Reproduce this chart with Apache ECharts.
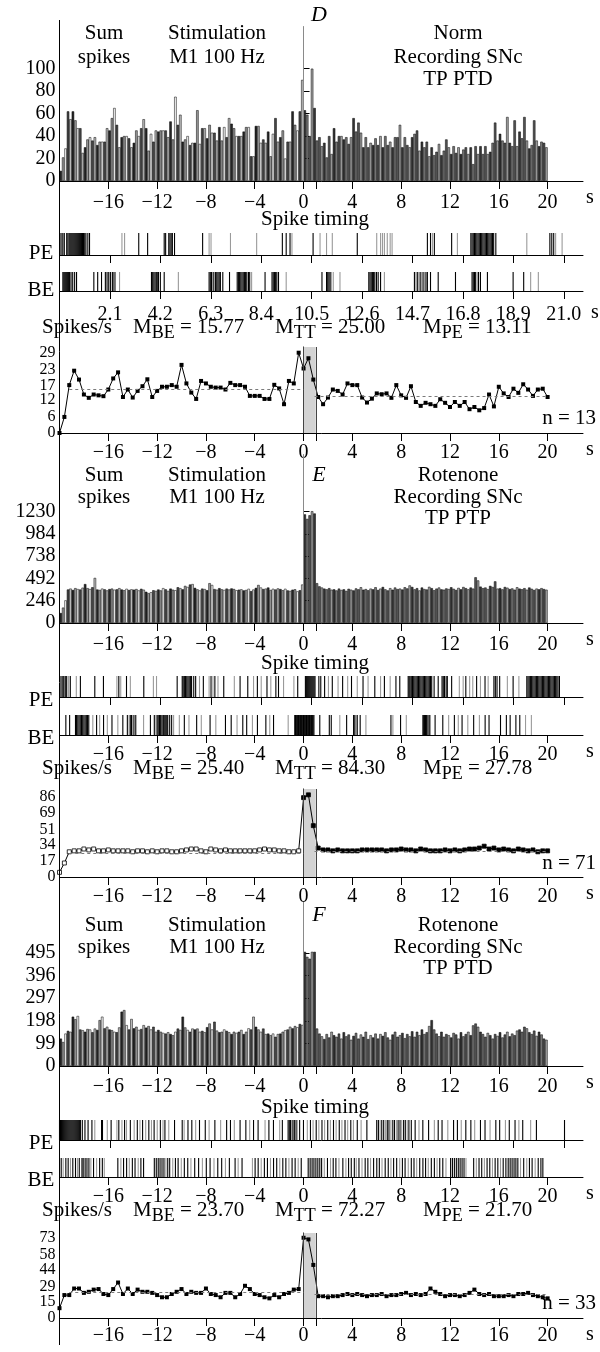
<!DOCTYPE html>
<html><head><meta charset="utf-8">
<script src="https://cdn.jsdelivr.net/npm/echarts@6/dist/echarts.min.js"></script>
<style>html,body{margin:0;padding:0;background:#fff}#c{width:600px;height:1352px}</style>
</head><body><div id="c"></div>
<script>
// ---------------- DATA ----------------
const secTicks = [-16,-12,-8,-4,0,4,8,12,16,20];
const secTicksWithStim = [-16,-12,-8,-4,0,1,4,8,12,16,20];
const rasterTicks = [2.1,4.2,6.3,8.4,10.5,12.6,14.7,16.8,18.9,21.0];
const histTicksD = [0,20,40,60,80,100];
const histTicksE = [0,246,492,738,984,1230];
const histTicksF = [0,99,198,297,396,495];
const lineTicksD = [0,6,12,17,23,29];
const lineTicksE = [0,17,34,51,69,86];
const lineTicksF = [0,15,29,44,58,73];
const panelLetters = ['D','E','F'];
const groupNames = ['Norm','Rotenone','Rotenone'];
const protocolNames = ['TP PTD','TP PTP','TP PTD'];
const meanBE = [15.77, 25.40, 23.70];
const meanTT = [25.00, 84.30, 72.27];
const meanPE = [13.11, 27.78, 21.70];
const nCells = [13, 71, 33];
const stimWindow = [0, 1];
const meanRangeBE = [-19.2, 0];
const meanRangePE = [0.9, 20];
const HIST_BIN_START = -20, HIST_BIN_WIDTH = 0.2;
const LINE_START = -20, LINE_STEP = 0.4;

const histD = [
9,21,29,62,55,62,54,47,47,25, 30,37,39,36,39,32,35,35,35,47,
45,56,65,50,30,39,40,40,38,30, 34,45,40,47,55,47,27,42,35,45,
44,45,45,45,39,53,37,75,50,59, 35,37,40,32,34,34,63,33,47,47,
38,50,43,43,36,48,36,48,39,56, 51,47,40,40,40,44,48,48,22,22,
49,49,34,37,
34,44,22,42,56,35,39,45,20,35, 35,62,50,45,62,90,63,59,40,100,
65,36,39,31,34,21,40,24,47,35, 40,40,37,39,33,39,56,44,52,43,
30,39,30,34,32,38,32,40,30,40, 32,35,30,39,39,50,30,39,32,30,
39,42,45,27,35,30,35,22,30,23, 26,33,23,27,37,30,24,31,25,30,
24,28,30,24,30,15,31,24,31,24, 31,24,
26,34,52,36,42,36,34,57,34,31,54,31,44,38,57,36,29,32,54,36,31,35,34,30];

const histE = [
110,170,250,370,380,365,385,375,370,390, 430,385,375,395,498,370,365,380,372,360,
375,380,368,372,385,370,362,378,365,372, 368,375,360,378,368,345,330,340,362,355,
370,360,385,372,355,380,368,362,395,385, 372,410,398,425,430,388,372,360,380,375,
362,440,420,375,368,385,372,365,380,370, 382,375,362,368,372,360,365,378,352,370,
388,420,392,375,380,392,365,378,370,382, 375,362,378,360,355,368,372,350,362,425,
1200,1150,1190,1235,1210, 440,405,392,380,372,
385,368,372,360,380,365,372,355,378,368, 360,382,372,395,368,375,362,380,372,395,
365,380,398,372,360,385,368,392,375,380, 370,395,382,415,398,372,385,360,392,375,
370,400,385,362,380,392,372,368,382,375, 395,378,365,388,372,398,385,372,392,380,
505,470,402,385,392,375,410,398,460,380, 385,372,398,390,375,382,368,395,380,372,
385,368,392,378,365,380,372,385,375,368];

const histF = [
120,105,142,154,150,216,205,219,160,157, 150,162,160,148,164,158,201,216,165,172,
160,157,150,148,169,238,245,179,160,206, 165,172,158,162,179,168,175,160,172,150,
158,150,145,142,148,140,135,150,164,158, 216,169,158,150,164,160,164,150,154,148,
170,186,160,194,155,148,150,160,154,148, 140,150,145,150,158,140,150,165,160,216,
172,160,150,164,140,142,135,142,128,140, 142,150,157,160,172,165,175,170,184,180,
500,478,470,500,500, 164,142,130,118,140,
125,150,135,128,142,120,148,130,138,115, 132,145,120,138,128,150,118,135,125,142,
120,140,132,148,125,115,138,150,128,135, 145,122,140,130,152,128,150,135,160,140,
148,175,201,160,142,130,150,128,140,135, 125,145,138,120,148,130,140,150,135,178,
186,172,150,140,128,145,135,120,140,132, 148,125,138,150,130,142,135,155,160,150,
172,165,148,140,155,132,150,138,120,115];

const lineD = [
0,5.8,17.3,22.5,19.3,13.9,12.7,13.9,13.6,13.3, 15.7,19.7,21.9,13,15.7,12.8,15.2,16.9,19.4,13,
15.2,16.7,16.7,17.3,16.7,24.6,17.9,14.6,12.3,18.8, 17.9,16.7,16.4,16.4,15.7,18.1,17.3,17.3,16.7,13.4,
13.4,13.4,12.3,12.3,17.4,16.1,10.4,18.8,17.9,29, 23.3,27,19.3,13,10.4,12.8,15.7,15.2,13.9,17.9,
17.3,17.3,12.8,11,12.4,14.3,14,14.3,12.7,17.3, 13.6,12.7,16.9,11.2,9.8,10.9,10.4,9.8,12.2,10.9,
9.4,11.2,9.8,11.2,8.6,9.4,8.2,9,13.9,9.6, 16.7,14.3,13,16,14.5,17.6,15.7,13.4,15.7,16,13];

const lineE = [
5,15,27,28,28,30,29,30,28,28, 29,28,28,28,28,27,28,28,27,28,
27,28,28,27,27,28,29,30,30,28, 27,30,29,28,29,28,28,28,28,28,
28,29,30,29,29,28,28,27,27,28, 85,88,55,31,29,
29,28,29,28,28,28,28,29,29,29, 29,29,28,29,29,30,29,29,28,30,
29,28,28,28,29,28,29,28,29,30, 30,31,33,30,31,29,30,29,28,30,
29,28,29,27,28,28];

const lineF = [
9,21,21,27,27,23,24,26,26.5,22, 21,26.5,32.5,22,27,22,26,24,24,23,
21,19,19,22,24,26.5,22,24,23,23, 27,22,21,19,23,23,19,22,29.5,26.5,
22,21,19,18,21,19,22,23,26,26.5, 73.5,72,48.6,20,20,19,20,20,21,22,
21,22,21,20,21,21,22,20,21,21, 22,23,21,22,21,22,27,24,22,20,
21,21,20,21,23,26,22,21,22,20, 20,20,21,20,22,22,23,21,20,19, 18];

// spike times: PE rows (and D's BE row) in raster units, E/F BE rows in seconds
const peD_black = [0.06,0.14,0.2,0.3,0.35,0.4,0.44,0.48,0.52,0.56,0.6,0.64,0.68,0.72,0.76,0.8,0.84,0.88,0.92,0.96,1.0,1.05,1.1,1.18,1.25,3.30,3.67,4.36,4.42,4.55,4.6,4.65,4.7,4.79,5.96,9.28,9.44,9.60,10.56,12.40,15.32,15.45,15.61,16.33,17.13,17.18,17.23,17.28,17.33,17.38,17.43,17.48,17.53,17.58,17.63,17.68,17.73,17.78,17.83,17.88,17.93,17.98,18.03,18.08,18.17,20.42,20.5,20.58];
const peD_gray = [0.1,2.60,2.71,6.23,6.31,7.12,8.21,9.68,10.85,11.12,11.36,13.21,13.37,13.45,13.53,13.65,13.77,13.85,15.53,16.57,19.46,20.66,20.93];
const beD_black = [0.14,0.18,0.22,0.26,0.3,0.34,0.38,0.42,0.48,0.55,0.63,0.71,1.43,1.59,1.75,1.91,1.98,2.05,2.12,2.2,2.23,2.31,3.83,3.88,3.93,3.98,4.03,4.07,4.12,4.2,4.36,6.23,6.28,6.33,6.4,6.5,6.55,6.6,6.65,6.7,6.8,7.08,7.4,7.45,7.5,7.55,7.6,7.65,7.7,7.75,7.8,7.87,7.92,8.56,8.85,8.9,8.95,9.0,9.05,9.12,10.93,11.12,11.17,11.22,11.27,12.88,12.93,12.98,13.03,13.08,13.13,13.2,13.27,13.37,14.78,14.9,15.02,15.14,15.26,15.32,15.45,15.77,16.49,17.18,17.23,17.28,17.33,17.45,17.53,17.82,18.89,19.33];
const beD_gray = [2.5,4.95,6.45,8.0,9.44,11.32,11.4,11.68,13.53,14.84,14.96,15.08,15.2,17.4,19.62,19.94];

const peE_black = [0.06,0.14,0.18,0.26,0.3,0.45,0.87,1.47,1.83,2.47,2.79,3.51,4.9,5.11,5.15,5.2,5.25,5.3,5.35,5.4,5.45,5.5,5.59,5.67,5.99,6.31,6.47,6.84,7.52,7.84,8.24,8.64,9.01,9.12,9.92,10.24,10.28,10.32,10.36,10.4,10.44,10.48,10.52,10.56,10.6,10.64,10.8,10.88,11.04,11.36,11.79,12.16,12.64,13.13,13.53,14.01,14.17,14.52,14.56,14.6,14.65,14.7,14.75,14.8,14.85,14.9,14.95,15.0,15.05,15.1,15.15,15.2,15.25,15.3,15.35,15.4,15.45,15.5,15.6,15.77,15.93,15.98,16.03,16.1,16.15,16.33,16.92,17.37,17.72,18.09,18.15,18.22,18.33,18.89,19.46,19.51,19.56,19.61,19.66,19.71,19.76,19.81,19.86,19.91,19.96,20.01,20.06,20.11,20.16,20.21,20.26,20.31,20.36,20.41,20.46,20.51,20.56,20.61,20.66,20.71,20.76,20.82];
const peE_gray = [0.1,0.22,0.38,0.7,2.39,2.55,2.95,3.91,4.04,5.83,6.23,6.39,6.6,7.28,8.08,8.4,8.8,9.33,9.76,11.2,11.6,12.0,12.4,12.85,13.37,13.77,16.65,16.81,17.08,17.21,17.53,17.85,18.65,19.13];
const beE_black = [-19.48,-19.17,-18.69,-18.6,-18.5,-18.4,-18.3,-18.2,-18.1,-18.0,-17.9,-17.8,-17.7,-17.6,-16.96,-16.39,-15.7,-14.81,-14.44,-14.2,-14.1,-13.9,-13.75,-12.55,-12.23,-12.0,-11.91,-11.8,-11.76,-11.7,-11.6,-11.5,-11.44,-11.36,-11.28,-11.2,-11.13,-10.97,-10.81,-9.77,-8.76,-7.66,-6.4,-5.93,-4.98,-4.66,-3.78,-3.09,-2.46,-0.72,-0.66,-0.6,-0.54,-0.48,-0.42,-0.36,-0.3,-0.24,-0.18,-0.12,-0.06,0,0.06,0.12,0.18,0.24,0.3,0.36,0.42,0.48,0.54,0.6,0.66,0.72,0.78,0.85,1.33,2.11,2.27,3.53,4.1,4.2,4.4,4.64,7.16,7.95,9.78,9.85,9.9,9.95,10.0,10.05,10.1,10.2,10.35,10.78,11.41,12.36,12.99,13.94,14.88,15.2,16.14,16.62,16.93,17.4,17.72];
const beE_gray = [-17.27,-16.71,-16.08,-15.22,-14.3,-14.0,-13.11,-12.1,-10.65,-10.18,-9.39,-8.38,-7.19,-5.45,-4.19,-2.77,-1.26,2.97,4.3,5.11,7.32,8.42,10.3,11.89,12.68,13.46,14.41,18.19,18.67];

const peF_black = [0,0.04,0.08,0.12,0.16,0.2,0.24,0.28,0.32,0.36,0.4,0.44,0.48,0.52,0.56,0.6,0.64,0.68,0.72,0.76,0.8,0.84,0.87,0.95,1.06,1.19,1.35,1.75,1.79,2.15,2.47,2.71,2.95,3.24,3.46,3.72,3.94,4.2,4.39,4.79,5.11,5.35,5.51,5.83,6.07,6.47,6.96,7.12,7.52,7.76,8.08,8.27,8.72,8.91,9.28,9.52,9.57,9.62,9.72,9.78,9.85,10.0,10.16,10.45,10.69,10.93,11.17,11.41,11.65,11.89,12.13,12.4,12.8,13.21,13.28,13.42,13.5,13.65,13.72,13.88,13.95,14.1,14.18,14.33,14.4,14.55,14.65,14.81,15.13,15.37,15.77,15.93,16.41,16.57,16.92,17.13,17.53,17.72,18.17,18.33,18.73,18.97,19.29,19.86,21.03];
const peF_gray = [1.47,1.99,2.39,2.6,2.79,3.11,3.35,3.59,3.83,4.07,4.31,4.55,5.19,5.67,6.23,6.71,7.28,7.92,8.56,9.17,9.67,9.9,10.32,10.56,10.8,11.04,11.28,11.52,11.76,12.0,12.24,12.56,13.35,13.58,13.8,14.03,14.25,14.48,14.97,15.61,16.17,16.73,17.29,17.93,18.57,19.13,19.62];
const beF_black = [-19.86,-19.48,-19.29,-18.91,-18.69,-18.38,-18.16,-18.06,-17.9,-17.75,-17.59,-17.21,-16.71,-16.49,-15.22,-14.75,-14.5,-14.03,-13.81,-13.33,-13.11,-12.23,-12.07,-11.91,-11.76,-11.6,-11.44,-11.13,-10.97,-10.5,-10.28,-9.77,-9.49,-8.92,-8.6,-7.97,-7.66,-7.03,-6.71,-6.08,-5.61,-5.04,-3.97,-3.72,-3.21,-2.96,-2.46,-2.2,-1.7,-1.45,-0.94,-0.69,-0.19,0.38,0.54,0.7,0.85,1.01,1.17,1.33,1.48,1.96,2.43,2.65,3.22,3.69,3.91,4.16,4.54,5.05,5.27,5.74,6.0,6.21,6.69,6.94,7.38,7.63,8.1,8.32,8.83,9.05,9.52,9.78,10.0,10.47,10.72,11.16,11.41,12.05,12.2,12.36,12.52,12.68,12.83,12.99,13.15,13.94,14.38,14.6,15.04,15.26,15.7,15.92,16.36,16.58,16.77,16.93,17.09,17.25,17.4,17.56,18.04,18.51,18.73,19.23,19.45,19.61];
const beF_gray = [-19.7,-19.1,-18.53,-17.43,-16.96,-16.33,-14.97,-14.28,-13.55,-11.28,-10.72,-10.02,-9.23,-8.29,-7.34,-6.4,-5.36,-4.19,-3.47,-2.71,-1.95,-1.2,-0.44,1.7,2.21,2.9,3.47,4.32,4.79,5.49,6.43,7.16,7.88,8.58,9.27,10.22,10.94,11.67,13.31,14.16,14.82,15.48,16.14,17.78,18.29,18.98];

// ---------------- LAYOUT / STYLE ----------------
const FONT = '"Liberation Serif","Times New Roman",serif';
const GL = 59.5, GW = 523.5;
const SEC_MIN = -20, SEC_MAX = 22.9, RU_MAX = 21.8;
const BAR_PRE = ['#262626','#9a9a9a','#f0f0f0','#474747','#bdbdbd'];
const BAR_POST = ['#353535','#777777','#555555','#a2a2a2'];

const panels = [
  {hist:[27,154,137.1], pe:[233,22], be:[272,19], line:[347,86,31.06], histTicks:histTicksD, lineTicks:lineTicksD, hist_:histD, line_:lineD,
   peB:peD_black, peG:peD_gray, beB:beD_black, beG:beD_gray, beSec:false, hollow:false,
   letterY:15, t1:33, t2:57, t3:79, stY:219, peY:253, beY:290, spY:327, nY:418,
   histM:12, beM:14, lineM:10},
  {hist:[455,168,1856], pe:[676,21], be:[715,20], line:[789,88,94.25], histTicks:histTicksE, lineTicks:lineTicksE, hist_:histE, line_:lineE,
   peB:peE_black, peG:peE_gray, beB:beE_black, beG:beE_gray, beSec:true, hollow:true,
   letterY:475, t1:475, t2:497, t3:518, stY:663, peY:700, beY:738, spY:768, nY:863,
   histM:12, beM:10, lineM:10},
  {hist:[902,164,718.4], pe:[1120,20], be:[1158,19], line:[1233,85,77.85], histTicks:histTicksF, lineTicks:lineTicksF, hist_:histF, line_:lineF,
   peB:peF_black, peG:peF_gray, beB:beF_black, beG:beF_gray, beSec:true, hollow:false,
   letterY:915, t1:925, t2:947, t3:968, stY:1107, peY:1143, beY:1180, spY:1210, nY:1303,
   histM:11, beM:10, lineM:8}
];

const grids = [], xAxes = [], yAxes = [], series = [], graphics = [];
const fmtSec = v => (v < 0 ? '\u2212' + Math.abs(v) : String(v));
const fmtPlain = v => String(Math.round(v));

function addGrid(top, height){ grids.push({left:GL, width:GW, top:top, height:height}); return grids.length - 1; }

function addX(g, o){
  xAxes.push({
    type:'value', gridIndex:g, min:o.min, max:o.max,
    axisLine:{show:true, onZero:false, lineStyle:{color:'#000', width:1}},
    axisTick:{show:true, inside:false, length:8, customValues:o.ticks, lineStyle:{color:'#000', width:1}},
    axisLabel:{show:!!o.labels, customValues:o.labels || [], formatter:o.fmt, margin:o.margin || 12,
      showMinLabel:true, showMaxLabel:true, hideOverlap:false,
      color:'#000', fontFamily:FONT, fontSize:20},
    splitLine:{show:false},
    name:o.name || '', nameLocation:'end', nameGap:o.nameGap || 3,
    nameTextStyle:{color:'#000', fontFamily:FONT, fontSize:20, verticalAlign:'top', padding:[o.namePad || 7,0,0,0]}
  });
}
function addY(g, o){
  yAxes.push({
    type:'value', gridIndex:g, min:0, max:o.max,
    axisLine:{show:!!o.ticks, lineStyle:{color:'#000', width:1}},
    axisTick:{show:!!o.ticks, inside:true, length:6, customValues:o.ticks, lineStyle:{color:'#000', width:1}},
    axisLabel:{show:!!o.ticks, customValues:o.ticks, formatter:fmtPlain, margin:4,
      showMinLabel:true, showMaxLabel:true, hideOverlap:false, lineHeight:o.lh,
      color:'#000', fontFamily:FONT, fontSize:o.fs || 20},
    splitLine:{show:false}
  });
}
function addRaster(g, times, color){
  series.push({
    type:'custom', xAxisIndex:g, yAxisIndex:g, silent:true, animation:false,
    data:times.map(t => [t, 1]), encode:{x:0, y:1},
    renderItem:(p, api) => {
      const a = api.coord([api.value(0), 0]);
      const b = api.coord([api.value(0), 1]);
      return {type:'line', shape:{x1:a[0], y1:a[1], x2:b[0], y2:b[1]}, style:{stroke:color, lineWidth:1.1}};
    }
  });
}
function txt(x, y, s, o){
  o = o || {};
  graphics.push({type:'text', x:x, y:y, silent:true, z:100,
    style:{text:s, fill:'#000', fontFamily:FONT, fontSize:o.fs || 21, fontStyle:o.italic ? 'italic' : 'normal',
      align:o.align || 'center', verticalAlign:'middle', rich:o.rich}});
}

panels.forEach((P, pi) => {
  // histogram
  const gh = addGrid(P.hist[0], P.hist[1]);
  addX(gh, {min:SEC_MIN, max:SEC_MAX, ticks:secTicksWithStim, labels:secTicks, fmt:fmtSec, margin:P.histM, name:'s'});
  addY(gh, {max:P.hist[2], ticks:P.histTicks, fs:20});
  series.push({
    type:'bar', xAxisIndex:gh, yAxisIndex:gh, silent:true, barWidth:2.45,
    data:P.hist_.map((v, i) => [HIST_BIN_START + HIST_BIN_WIDTH * (i + 0.5), v]),
    itemStyle:{borderColor:'#000', borderWidth:0.5,
      color:p => (p.value[0] < 0 ? BAR_PRE[p.dataIndex % BAR_PRE.length] : BAR_POST[p.dataIndex % BAR_POST.length])},
    markLine:{silent:true, symbol:['none','none'], label:{show:false}, animation:false,
      lineStyle:{color:'#8a8a8a', width:1, type:'solid'}, data:[{xAxis:0}]}
  });
  // PE raster
  const gp = addGrid(P.pe[0], P.pe[1]);
  addX(gp, {min:0, max:RU_MAX, ticks:rasterTicks});
  addY(gp, {max:1});
  addRaster(gp, P.peG, '#9a9a9a');
  addRaster(gp, P.peB, '#000');
  // BE raster
  const gb = addGrid(P.be[0], P.be[1]);
  if (P.beSec) addX(gb, {min:SEC_MIN, max:SEC_MAX, ticks:secTicks, labels:secTicks, fmt:fmtSec, margin:P.beM, name:'s'});
  else addX(gb, {min:0, max:RU_MAX, ticks:rasterTicks, labels:rasterTicks, fmt:v => v.toFixed(1), margin:P.beM, name:'s', nameGap:8, namePad:12});
  addY(gb, {max:1});
  addRaster(gb, P.beG, '#9a9a9a');
  addRaster(gb, P.beB, '#000');
  // line plot
  const gl = addGrid(P.line[0], P.line[1]);
  addX(gl, {min:SEC_MIN, max:SEC_MAX, ticks:secTicksWithStim, labels:secTicks, fmt:fmtSec, margin:P.lineM, name:'s'});
  addY(gl, {max:P.line[2], ticks:P.lineTicks, fs:16, lh:11});
  const dash = {color:'#7a7a7a', width:1, type:[3,3]};
  const edge = {color:'#444', width:1, type:'solid'};
  series.push({
    type:'line', xAxisIndex:gl, yAxisIndex:gl, silent:true, z:3,
    data:P.line_.map((v, k) => [LINE_START + LINE_STEP * k, v]),
    symbol:'rect', symbolSize:4, showSymbol:true,
    lineStyle:{color:'#000', width:1},
    itemStyle:{color:P.hollow ? (p => (p.value[0] < 0 ? '#fff' : '#000')) : '#000', borderColor:'#000', borderWidth:P.hollow ? 0.8 : 0},
    markArea:{silent:true, itemStyle:{color:'#d3d3d3'}, data:[[{xAxis:stimWindow[0]}, {xAxis:stimWindow[1]}]]},
    markLine:{silent:true, symbol:['none','none'], label:{show:false}, animation:false,
      data:[
        {xAxis:stimWindow[0], lineStyle:edge},
        {xAxis:stimWindow[1], lineStyle:edge},
        [{coord:[meanRangeBE[0], meanBE[pi]], lineStyle:dash}, {coord:[meanRangeBE[1], meanBE[pi]]}],
        [{coord:[meanRangePE[0], meanPE[pi]], lineStyle:dash}, {coord:[meanRangePE[1], meanPE[pi]]}]
      ]}
  });

  // texts
  txt(319, P.letterY, panelLetters[pi], {italic:true, fs:22});
  txt(104, P.t1, 'Sum'); txt(104, P.t2, 'spikes');
  txt(217, P.t1, 'Stimulation'); txt(217, P.t2, 'M1 100 Hz');
  txt(458, P.t1, groupNames[pi]); txt(458, P.t2, 'Recording SNc'); txt(458, P.t3, protocolNames[pi]);
  txt(315, P.stY, 'Spike timing');
  txt(41, P.peY, 'PE'); txt(41, P.beY, 'BE');
  txt(77, P.spY, 'Spikes/s');
  const rich = {a:{fontFamily:FONT, fontSize:21}, b:{fontFamily:FONT, fontSize:18, padding:[12,0,0,0]}};
  txt(133, P.spY, '{a|M}{b|BE}{a| = ' + meanBE[pi].toFixed(2) + '}', {align:'left', rich:rich});
  txt(275, P.spY, '{a|M}{b|TT}{a| = ' + meanTT[pi].toFixed(2) + '}', {align:'left', rich:rich});
  txt(423, P.spY, '{a|M}{b|PE}{a| = ' + meanPE[pi].toFixed(2) + '}', {align:'left', rich:rich});
  txt(596, P.nY, 'n = ' + nCells[pi], {align:'right'});
});

// continuous left spine
graphics.push({type:'line', silent:true, z:50, shape:{x1:GL, y1:20, x2:GL, y2:1345}, style:{stroke:'#000', lineWidth:1}});

const chart = echarts.init(document.getElementById('c'), null, {renderer:'canvas'});
chart.setOption({
  animation:false,
  backgroundColor:'#fff',
  grid:grids, xAxis:xAxes, yAxis:yAxes, series:series,
  graphic:graphics
});
</script></body></html>
